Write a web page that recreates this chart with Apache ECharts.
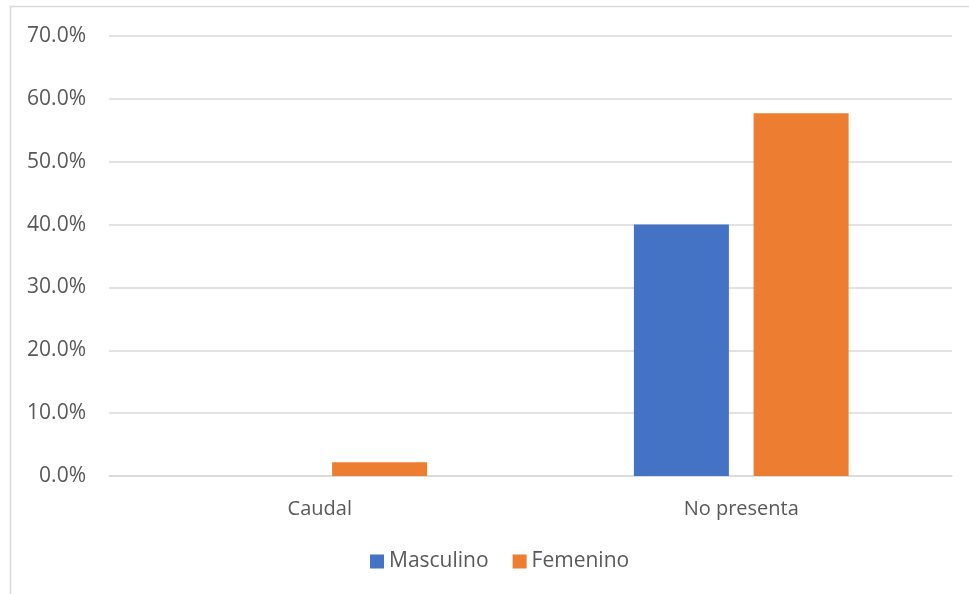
<!DOCTYPE html>
<html>
<head>
<meta charset="utf-8">
<script src="https://cdn.jsdelivr.net/npm/echarts@6/dist/echarts.min.js"></script>
<style>
  html, body { margin: 0; padding: 0; background: #fff; }
  #chart { width: 969px; height: 594px; }
</style>
</head>
<body>
<div id="chart"></div>
<script>
// Categories and percentages per sex
const categories = ['Caudal', 'No presenta'];
const masculino = [0.0, 40.0];
const femenino = [2.2, 57.7];
const seriesNames = ['Masculino', 'Femenino'];

const textColor = '#595959';
const gridColor = '#D9D9D9';
const fontFamily = '"Open Sans", "Noto Sans", sans-serif';

const chart = echarts.init(document.getElementById('chart'));
chart.setOption({
  animation: false,
  textStyle: { fontFamily: fontFamily, color: textColor },
  graphic: [{
    type: 'rect',
    shape: { x: 10.5, y: 6.5, width: 1000, height: 700 },
    style: { fill: 'none', stroke: gridColor, lineWidth: 1.5 },
    silent: true
  }],
  grid: { left: 109, right: 17, top: 36, bottom: 118 },
  legend: {
    data: seriesNames,
    bottom: 17,
    left: 365,
    itemWidth: 14,
    itemHeight: 14,
    itemGap: 24,
    icon: 'rect',
    textStyle: { fontSize: 21, color: textColor, fontFamily: fontFamily }
  },
  xAxis: {
    type: 'category',
    data: categories,
    axisTick: { show: false },
    axisLine: { lineStyle: { color: gridColor, width: 1.5 } },
    axisLabel: { fontSize: 20, color: textColor, margin: 23, fontFamily: fontFamily }
  },
  yAxis: {
    type: 'value',
    min: 0,
    max: 70,
    interval: 10,
    axisLine: { show: false },
    axisTick: { show: false },
    splitLine: { lineStyle: { color: gridColor, width: 1.5 } },
    axisLabel: {
      fontSize: 21,
      color: textColor,
      margin: 23,
      fontFamily: fontFamily,
      formatter: v => v.toFixed(1) + '%'
    }
  },
  series: [
    {
      name: seriesNames[0],
      type: 'bar',
      data: masculino,
      barWidth: 95,
      barGap: '26%',
      itemStyle: { color: '#4472C4' }
    },
    {
      name: seriesNames[1],
      type: 'bar',
      data: femenino,
      barWidth: 95,
      itemStyle: { color: '#ED7D31' }
    }
  ]
});
</script>
</body>
</html>
